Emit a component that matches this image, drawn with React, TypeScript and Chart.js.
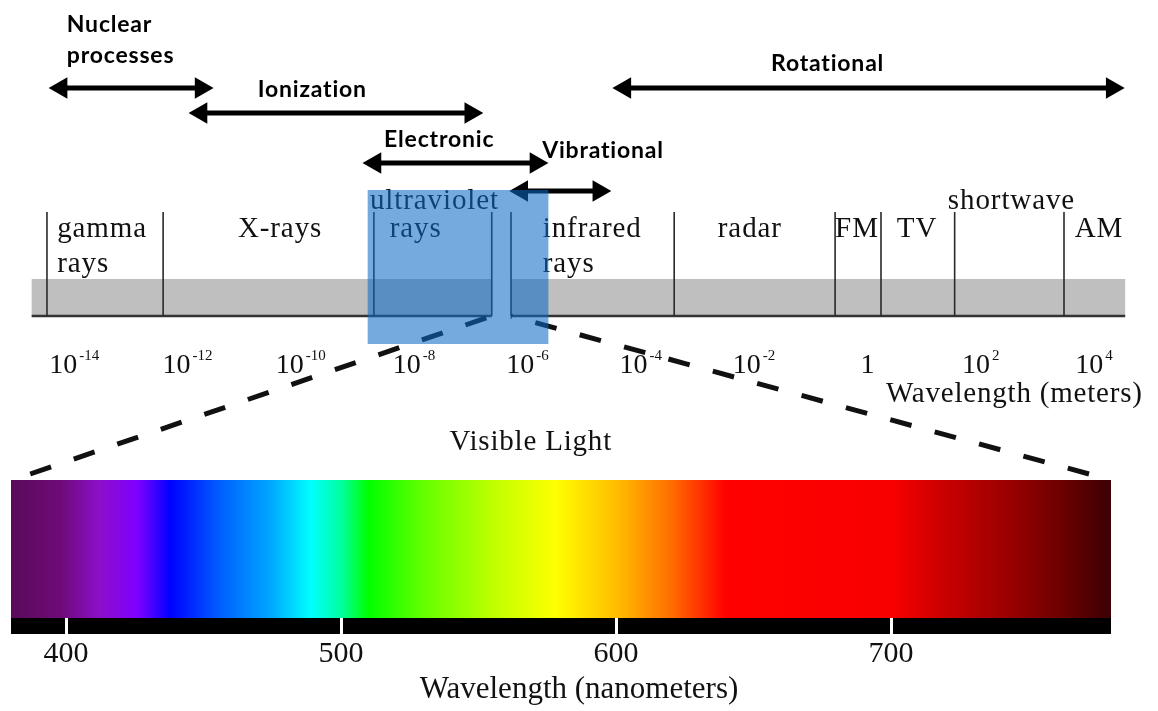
import React, { useEffect, useRef } from 'react';
import { Chart, registerables } from 'chart.js';

Chart.register(...registerables);

// ---------------- data ----------------
// energy-transition ranges (log10 of wavelength in metres) – arrow ends
const processNames = [['Nuclear', 'processes'], ['Ionization'], ['Electronic'], ['Vibrational'], ['Rotational']];
const processFromExp = [-14.23, -11.76, -8.69, -6.1, -4.28];
const processToExp = [-11.76, -7.0, -5.85, -4.74, 4.32];

// named regions of the spectrum and their boundaries (log10 metres)
const regionNames = [['gamma', 'rays'], ['X-rays'], ['ultraviolet', 'rays'], ['infrared', 'rays'], ['radar'], ['FM'], ['TV'], ['shortwave'], ['AM']];
const regionBoundariesExp = [-14.48, -12.43, -8.71, -6.63, -6.29, -3.41, -0.57, 0.24, 1.54, 3.47];
const spectrumExtentExp = [-14.75, 4.55];
const visibleBandExp = [-6.63, -6.29];
const highlightExp = [-8.82, -5.63];
const exponentTicks = [-14, -12, -10, -8, -6, -4, -2, 0, 2, 4];

// visible light (nanometres)
const visibleRangeNm = [380, 780];
const nmTicks = [400, 500, 600, 700];
const connectorNm = [387, 772];
const spectrumStopNm = [380, 398, 412, 426, 438, 455, 475, 489, 500, 510, 530, 555, 578, 600, 620, 640, 700, 720, 745, 765, 780];
const spectrumStopColor = [
  '#5a0a5a', '#6e0a78', '#8c0fc8', '#7f00ff', '#0000ff', '#005aff', '#00aaff', '#00ffff', '#00ffa0', '#00ff00',
  '#64ff00', '#beff00', '#ffff00', '#ffbe00', '#ff6e00', '#ff0000', '#f80000', '#c80000', '#960000', '#640000', '#3c0005',
];

// ---------------- layout (positions / styles) ----------------
const SERIF = '"Liberation Serif", "Times New Roman", serif';
const SANS = 'Lato, "Open Sans", sans-serif';
const L = {
  expMin: -15.309,
  expMax: 5.129,
  nmMin: 376,
  nmMax: 797.09,
  yMax: 618,
  processRowY: [88, 113, 163, 191, 88],
  processLabelExp: [-14.13, -10.76, -8.53, -5.74, -1.7],
  processLabelBaselines: [[32, 63], [97], [147], [158], [71]],
  regionLabelExp: [[-14.3, -14.3], [-11.11], [-8.78, -8.43], [-5.73, -5.73], [-2.64], [-0.57], [0.52], [1.42], [3.66]],
  regionLabelRows: [[1, 2], [1], [0, 1], [1, 2], [1], [1], [1], [0], [1]],
  rowBaselines: [209, 237, 272],
  dividerTop: 212,
  bandTop: 279,
  bandBottom: 316,
  highlightTop: 190,
  highlightBottom: 344,
  tickBaseline: 373,
  supBaseline: 360,
  metersTitleExp: 4.86,
  metersTitleY: 402,
  visibleTitleNm: 569,
  visibleTitleY: 450,
  connectorEndY: 474,
  barTop: 480,
  barBottom: 618,
  stripBottom: 634,
};
const DASH = [22, 24];

function drawText(ctx: CanvasRenderingContext2D, s: string, x: number, y: number, font: string, align: CanvasTextAlign = 'left', spacing = '0px', color = '#111') {
  ctx.save();
  ctx.font = font;
  (ctx as any).letterSpacing = spacing;
  ctx.textAlign = align;
  ctx.textBaseline = 'alphabetic';
  ctx.fillStyle = color;
  ctx.fillText(s, x, y);
  ctx.restore();
}

const diagramPlugin = {
  id: 'spectrumDiagram',
  beforeDraw(chart: any) {
    const ctx: CanvasRenderingContext2D = chart.ctx;
    const xn = chart.scales.xnm;
    const ys = chart.scales.y;
    const x0 = xn.getPixelForValue(visibleRangeNm[0]);
    const x1 = xn.getPixelForValue(visibleRangeNm[1]);
    const top = ys.getPixelForValue(L.barTop);
    const bottom = ys.getPixelForValue(L.barBottom);
    const strip = ys.getPixelForValue(L.stripBottom);
    ctx.save();
    const g = ctx.createLinearGradient(x0, 0, x1, 0);
    const span = visibleRangeNm[1] - visibleRangeNm[0];
    spectrumStopNm.forEach((nm, i) => g.addColorStop((nm - visibleRangeNm[0]) / span, spectrumStopColor[i]));
    ctx.fillStyle = g;
    ctx.fillRect(x0, top, x1 - x0, bottom - top);
    ctx.fillStyle = '#000';
    ctx.fillRect(x0, bottom, x1 - x0, strip - bottom);
    ctx.restore();
  },
  afterDatasetsDraw(chart: any) {
    const ctx: CanvasRenderingContext2D = chart.ctx;
    const xs = chart.scales.x;
    const xn = chart.scales.xnm;
    const ys = chart.scales.y;

    // dashed connectors from the visible band to the visible-light bar
    ctx.save();
    ctx.strokeStyle = '#111';
    ctx.lineWidth = 5;
    ctx.setLineDash(DASH);
    ctx.lineCap = 'butt';
    const period = DASH[0] + DASH[1];
    [0, 1].forEach((i) => {
      const ax = xs.getPixelForValue(visibleBandExp[i]);
      const ay = ys.getPixelForValue(L.bandBottom);
      const bx = xn.getPixelForValue(connectorNm[i]);
      const by = ys.getPixelForValue(L.connectorEndY);
      const len = Math.hypot(bx - ax, by - ay);
      ctx.lineDashOffset = (((DASH[0] - (len % period)) % period) + period) % period;
      ctx.beginPath();
      ctx.moveTo(ax, ay);
      ctx.lineTo(bx, by);
      ctx.stroke();
    });
    ctx.restore();

    // process labels
    processNames.forEach((lines, i) => {
      lines.forEach((s, j) => {
        drawText(ctx, s, xs.getPixelForValue(L.processLabelExp[i]), ys.getPixelForValue(L.processLabelBaselines[i][j]), `bold 23px ${SANS}`, 'left', '0.8px', '#000');
      });
    });

    // region labels
    regionNames.forEach((lines, i) => {
      lines.forEach((s, j) => {
        drawText(ctx, s, xs.getPixelForValue(L.regionLabelExp[i][j]), ys.getPixelForValue(L.rowBaselines[L.regionLabelRows[i][j]]), `29px ${SERIF}`, 'left', '0.9px');
      });
    });

    // exponent tick labels
    exponentTicks.forEach((v) => {
      const cx = xs.getPixelForValue(v);
      const base = v === 0 ? '1' : '10';
      const sup = v === 0 ? '' : String(v);
      ctx.save();
      ctx.font = `28px ${SERIF}`;
      const wb = ctx.measureText(base).width;
      ctx.font = `15px ${SERIF}`;
      const ws = sup ? ctx.measureText(sup).width + 2 : 0;
      ctx.restore();
      const left = cx - (wb + ws) / 2;
      drawText(ctx, base, left, ys.getPixelForValue(L.tickBaseline), `28px ${SERIF}`);
      if (sup) drawText(ctx, sup, left + wb + 2, ys.getPixelForValue(L.supBaseline), `15px ${SERIF}`);
    });

    drawText(ctx, 'Wavelength (meters)', xs.getPixelForValue(L.metersTitleExp), ys.getPixelForValue(L.metersTitleY), `29px ${SERIF}`, 'right', '0.8px');
    drawText(ctx, 'Visible Light', xn.getPixelForValue(L.visibleTitleNm), ys.getPixelForValue(L.visibleTitleY), `29px ${SERIF}`, 'center', '0.8px');
  },
  afterDraw(chart: any) {
    const ctx: CanvasRenderingContext2D = chart.ctx;
    const xs = chart.scales.x;
    const ys = chart.scales.y;
    const x0 = xs.getPixelForValue(highlightExp[0]);
    const x1 = xs.getPixelForValue(highlightExp[1]);
    const y0 = ys.getPixelForValue(L.highlightTop);
    const y1 = ys.getPixelForValue(L.highlightBottom);
    ctx.save();
    ctx.fillStyle = 'rgba(10, 105, 195, 0.57)';
    ctx.fillRect(x0, y0, x1 - x0, y1 - y0);
    ctx.restore();
  },
};

function buildDatasets() {
  const datasets: any[] = [];
  processFromExp.forEach((from, i) => {
    datasets.push({
      type: 'line',
      label: processNames[i].join(' '),
      data: [
        { x: from, y: L.processRowY[i] },
        { x: processToExp[i], y: L.processRowY[i] },
      ],
      borderColor: '#000',
      borderWidth: 5,
      borderCapStyle: 'butt',
      pointStyle: 'triangle',
      pointRadius: 12.5,
      pointBackgroundColor: '#000',
      pointBorderColor: '#000',
      pointBorderWidth: 0,
      pointRotation: (c: any) => (c.dataIndex === 0 ? 270 : 90),
      order: 1,
    });
  });
  const divData: any[] = [];
  regionBoundariesExp.forEach((e) => {
    divData.push({ x: e, y: L.dividerTop }, { x: e, y: L.bandBottom }, { x: e, y: null });
  });
  datasets.push({
    type: 'line',
    label: 'boundaries',
    data: divData,
    borderColor: '#2a2a2a',
    borderWidth: 1.6,
    pointRadius: 0,
    spanGaps: false,
    order: 2,
  });
  const segs = [
    [spectrumExtentExp[0], visibleBandExp[0]],
    [visibleBandExp[1], spectrumExtentExp[1]],
  ];
  segs.forEach(([a, b]) => {
    datasets.push({
      type: 'line',
      label: 'axis',
      data: [
        { x: a, y: L.bandBottom },
        { x: b, y: L.bandBottom },
      ],
      borderColor: '#333',
      borderWidth: 2.5,
      borderCapStyle: 'butt',
      pointRadius: 0,
      order: 3,
    });
    const mid = (L.bandTop + L.bandBottom) / 2;
    datasets.push({
      type: 'line',
      label: 'band',
      data: [
        { x: a, y: mid },
        { x: b, y: mid },
      ],
      borderColor: '#bfbfbf',
      borderWidth: L.bandBottom - L.bandTop,
      borderCapStyle: 'butt',
      pointRadius: 0,
      order: 4,
    });
  });
  return datasets;
}

export default function App() {
  const ref = useRef<HTMLCanvasElement | null>(null);
  useEffect(() => {
    if (!ref.current) return;
    const chart = new Chart(ref.current, {
      type: 'line',
      data: { datasets: buildDatasets() },
      options: {
        responsive: false,
        animation: false,
        events: [],
        layout: { autoPadding: false, padding: { top: 0, left: 0, right: 0, bottom: 1 } },
        plugins: { legend: { display: false }, tooltip: { enabled: false } },
        scales: {
          x: { type: 'linear', min: L.expMin, max: L.expMax, display: false },
          y: { type: 'linear', min: 0, max: L.yMax, reverse: true, display: false },
          xnm: {
            type: 'linear',
            axis: 'x',
            position: 'bottom',
            min: L.nmMin,
            max: L.nmMax,
            afterBuildTicks: (s: any) => {
              s.ticks = nmTicks.map((v) => ({ value: v }));
            },
            afterFit: (s: any) => {
              s.paddingLeft = 0;
              s.paddingRight = 0;
            },
            grid: { drawOnChartArea: false, drawTicks: true, tickLength: 16, tickWidth: 3, tickColor: '#fff', lineWidth: 3, color: '#fff' },
            border: { display: false },
            ticks: { color: '#111', font: { family: SERIF, size: 30, lineHeight: 1 }, padding: 5, maxRotation: 0, autoSkip: false },
            title: { display: true, text: 'Wavelength (nanometers)', color: '#111', font: { family: SERIF, size: 31, lineHeight: 1 }, padding: { top: 0, bottom: 5 } },
          },
        },
      } as any,
      plugins: [diagramPlugin],
    } as any);
    return () => chart.destroy();
  }, []);
  return (
    <div style={{ position: 'absolute', left: 0, top: 0, width: 1158, height: 711, background: '#fff' }}>
      <canvas ref={ref} width={1158} height={711} style={{ display: 'block', width: 1158, height: 711 }} />
    </div>
  );
}
